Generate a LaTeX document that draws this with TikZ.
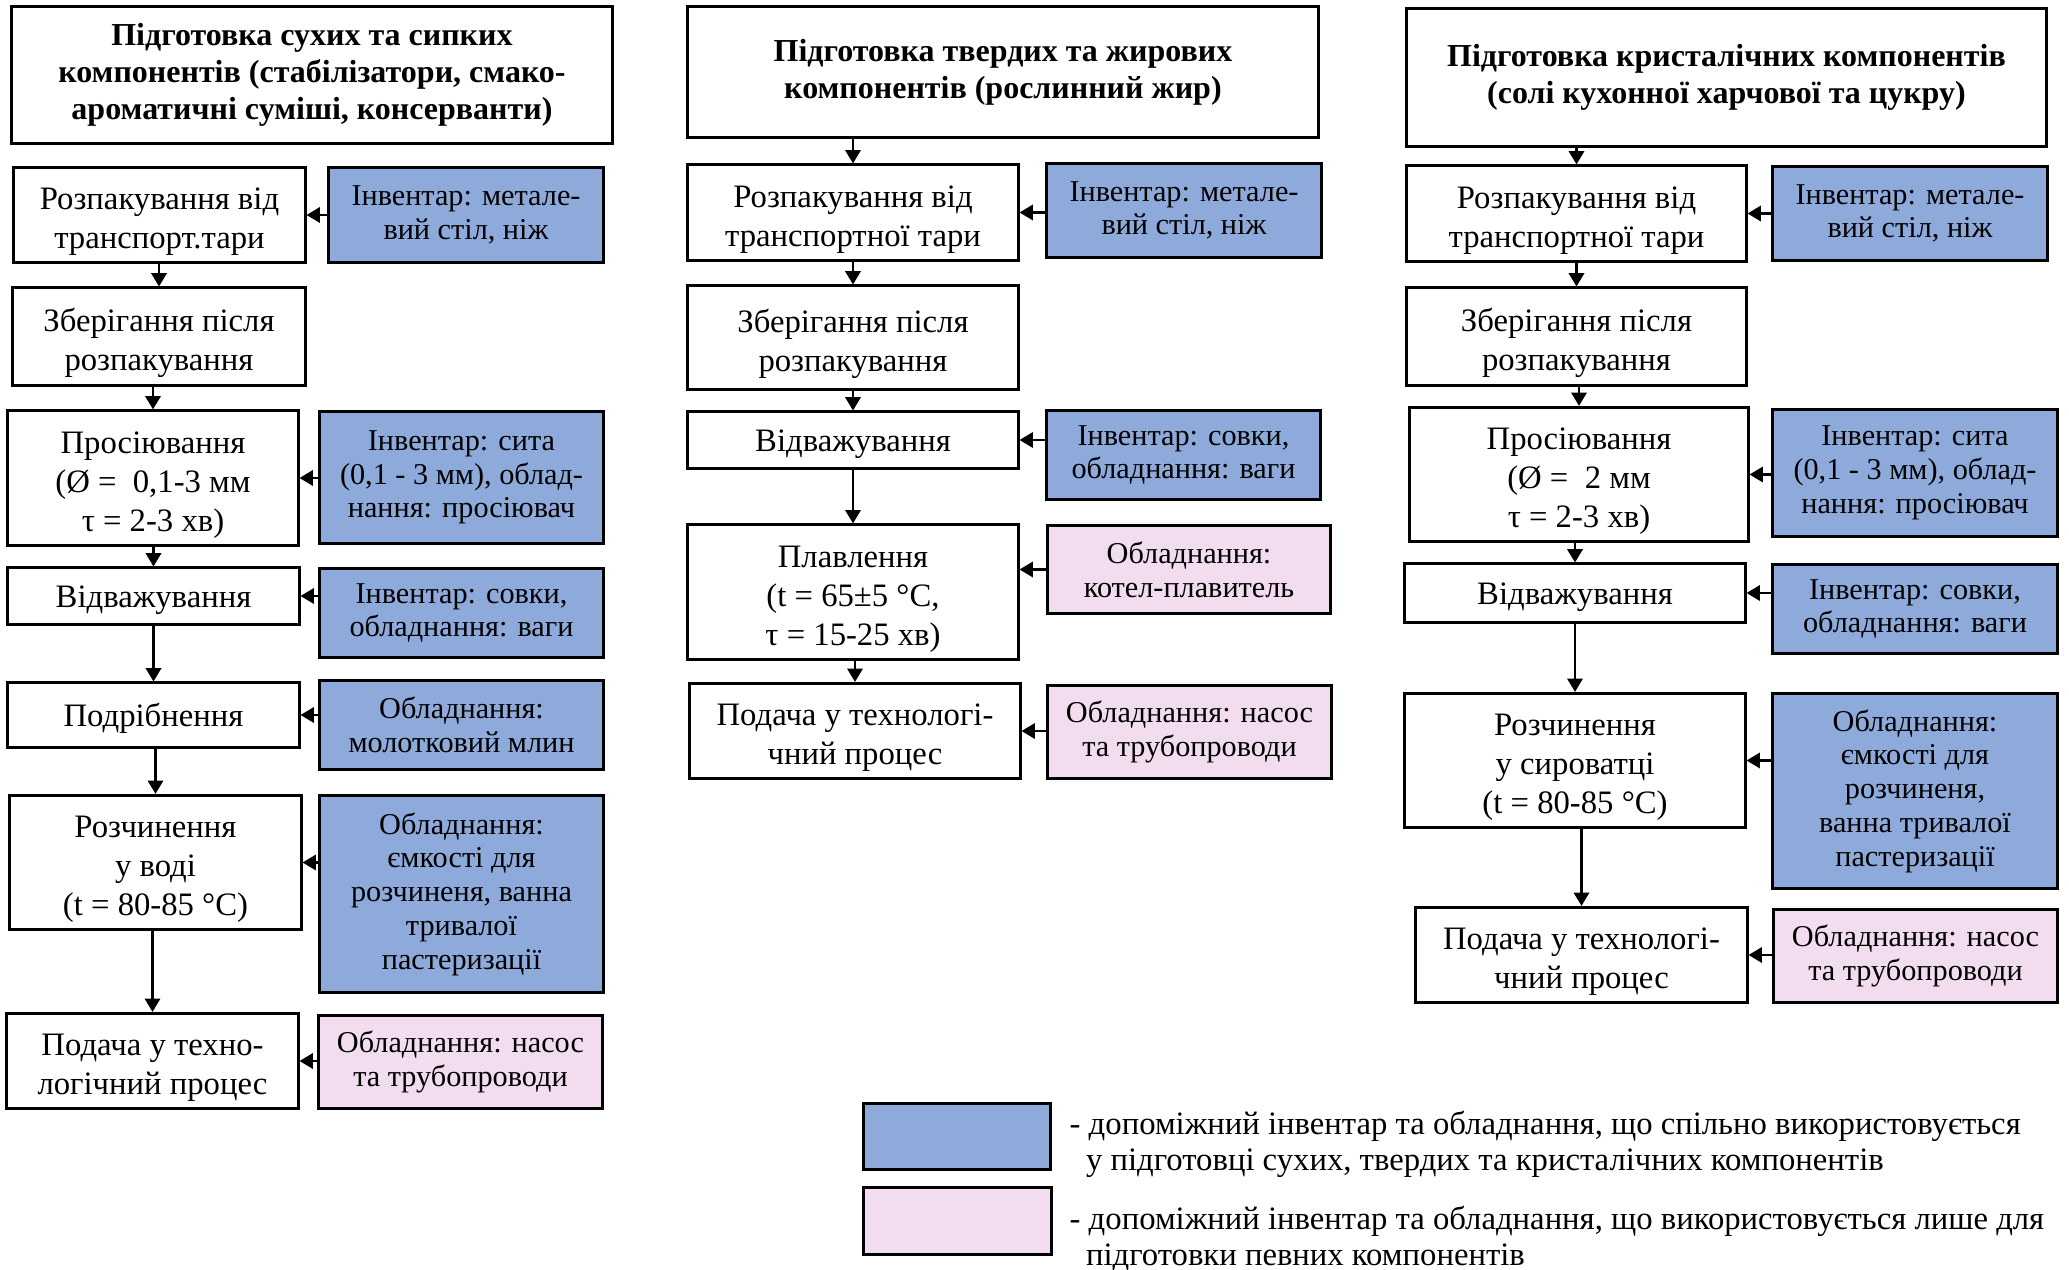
\documentclass[tikz,border=0pt]{standalone}
\usepackage{fontspec}
\setmainfont{Liberation Serif}
\usetikzlibrary{arrows.meta}
\definecolor{toolblue}{RGB}{142,170,219}
\definecolor{toolpink}{RGB}{242,220,239}
\newcommand{\toppad}{\rule{0pt}{10pt}}

\begin{document}
\begin{tikzpicture}[x=0.01cm, y=-0.01cm,
        stage/.style={draw, line width=.85pt, align=center, inner sep=2pt, font=\fontsize{9.3}{11.1}\selectfont, execute at begin node=\rule{0pt}{8.5pt}},
        head/.style={stage, font=\fontsize{9.1}{10.5}\selectfont\bfseries},
        tool/.style={stage, fill=toolblue, font=\fontsize{8.6}{9.6}\selectfont},
        own/.style={tool, fill=toolpink},
        wh/.style 2 args={minimum width=#1cm, minimum height=#2cm},
        arr/.style={-{Triangle[width=4.4pt,length=3.8pt]}, line width=.6pt}]
        \useasboundingbox (0,0) rectangle (2069,1270);
        % dry components
        \node[head, wh={6.00}{1.36}] (d0) at (312,75) {Підготовка сухих та сипких\\компонентів (стабілізатори, смако-\\ароматичні суміші, консерванти)};
        \node[stage, wh={2.91}{.94}] (d1) at (159.5,215) {\toppad Розпакування від\\транспорт.тари};
        \node[tool, wh={2.75}{.94}] (d1t) at (466,215) {Інвентар: метале-\\вий стіл, ніж};
        \node[stage, wh={2.92}{.97}] (d2) at (159,336.5) {\toppad Зберігання після\\розпакування};
        \node[stage, wh={2.90}{1.31}] (d3) at (153,478) {\toppad Просіювання\\(Ø =\ \ 0,1-3 мм\\τ = 2-3 хв)};
        \node[tool, wh={2.83}{1.31}] (d3t) at (461.5,477.5) {Інвентар: сита\\(0,1 - 3 мм), облад-\\нання: просіювач};
        \node[stage, wh={2.91}{.56}] (d4) at (153.5,596) {Відважування};
        \node[tool, wh={2.83}{.88}] (d4t) at (461.5,613) {Інвентар: совки,\\обладнання: ваги};
        \node[stage, wh={2.91}{.64}] (d5) at (153.5,715) {Подрібнення};
        \node[tool, wh={2.83}{.88}] (d5t) at (461.5,725) {Обладнання:\\молотковий млин};
        \node[stage, wh={2.91}{1.33}] (d6) at (155.5,862.5) {\toppad Розчинення\\у воді\\(t = 80-85 °C)};
        \node[tool, wh={2.83}{1.96}] (d6t) at (461.5,894) {Обладнання:\\ємкості для\\розчиненя, ванна\\тривалої\\пастеризації};
        \node[stage, wh={2.91}{.94}] (d7) at (152.5,1061) {\toppad Подача у техно-\\логічний процес};
        \node[own, wh={2.83}{.92}] (d7t) at (460.5,1062) {Обладнання: насос\\та трубопроводи};
        % fat components
        \node[head, wh={6.30}{1.30}] (f0) at (1003,72) {Підготовка твердих та жирових\\компонентів (рослинний жир)};
        \node[stage, wh={3.30}{.93}] (f1) at (853,212.5) {\toppad Розпакування від\\транспортної тари};
        \node[tool, wh={2.74}{.93}] (f1t) at (1184,210.5) {Інвентар: метале-\\вий стіл, ніж};
        \node[stage, wh={3.30}{1.03}] (f2) at (853,337.5) {\toppad Зберігання після\\розпакування};
        \node[stage, wh={3.30}{.56}] (f3) at (853,440) {Відважування};
        \node[tool, wh={2.73}{.88}] (f3t) at (1183.5,455) {Інвентар: совки,\\обладнання: ваги};
        \node[stage, wh={3.30}{1.32}] (f4) at (853,592) {\toppad Плавлення\\(t = 65±5 °C,\\τ = 15-25 хв)};
        \node[own, wh={2.82}{.87}] (f4t) at (1189,569.5) {Обладнання:\\котел-плавитель};
        \node[stage, wh={3.30}{.94}] (f5) at (855,731) {\toppad Подача у технологі-\\чний процес};
        \node[own, wh={2.83}{.92}] (f5t) at (1189.5,732) {Обладнання: насос\\та трубопроводи};
        % crystal components
        \node[head, wh={6.39}{1.37}] (c0) at (1726.5,77.5) {Підготовка кристалічних компонентів\\(солі кухонної харчової та цукру)};
        \node[stage, wh={3.39}{.93}] (c1) at (1576.5,213.5) {\toppad Розпакування від\\транспортної тари};
        \node[tool, wh={2.74}{.93}] (c1t) at (1910,213.5) {Інвентар: метале-\\вий стіл, ніж};
        \node[stage, wh={3.39}{.97}] (c2) at (1576.5,336.5) {\toppad Зберігання після\\розпакування};
        \node[stage, wh={3.38}{1.32}] (c3) at (1579,474.5) {\toppad Просіювання\\(Ø =\ \ 2 мм\\τ = 2-3 хв)};
        \node[tool, wh={2.84}{1.26}] (c3t) at (1915,473) {Інвентар: сита\\(0,1 - 3 мм), облад-\\нання: просіювач};
        \node[stage, wh={3.40}{.58}] (c4) at (1575,593) {Відважування};
        \node[tool, wh={2.84}{.88}] (c4t) at (1915,609) {Інвентар: совки,\\обладнання: ваги};
        \node[stage, wh={3.40}{1.33}] (c5) at (1575,760.5) {\toppad Розчинення\\у сироватці\\(t = 80-85 °C)};
        \node[tool, wh={2.84}{1.94}] (c5t) at (1915,791) {Обладнання:\\ємкості для\\розчиненя,\\ванна тривалої\\пастеризації};
        \node[stage, wh={3.31}{.94}] (c6) at (1581.5,955) {\toppad Подача у технологі-\\чний процес};
        \node[own, wh={2.83}{.92}] (c6t) at (1915.5,956) {Обладнання: насос\\та трубопроводи};
        % legend
        \node[tool, wh={1.87}{.65}] (keyshared) at (957,1136.5) {};
        \node[own, wh={1.88}{.66}] (keyown) at (957.5,1221) {};
        \node[anchor=west, align=left, inner sep=0pt, font=\fontsize{9.3}{10.3}\selectfont] (keysharedtxt) at (1069,1144)
            {- допоміжний інвентар та обладнання, що спільно використовується\\\hspace*{.5em}у підготовці сухих, твердих та кристалічних компонентів};
        \node[anchor=west, align=left, inner sep=0pt, font=\fontsize{9.3}{10.3}\selectfont] (keyowntxt) at (1069,1239)
            {- допоміжний інвентар та обладнання, що використовується лише для\\\hspace*{.5em}підготовки певних компонентів};
        % arrows
        \foreach \a/\b in {d1/d2, d2/d3, d3/d4, d4/d5, d5/d6, d6/d7, f1/f2, f2/f3, f3/f4, f4/f5, c1/c2, c2/c3, c3/c4, c4/c5, c5/c6}
            \draw[arr] (\b.north |- \a.south) -- (\b.north);
        \draw[arr] (f0.south -| f1.north) -- (f1.north);
        \draw[arr] (c0.south -| c1.north) -- (c1.north);
        \foreach \a/\b in {d1/d1t, d3/d3t, d4/d4t, d5/d5t, d6/d6t, d7/d7t, f1/f1t, f3/f3t, f5/f5t, c1/c1t, c3/c3t, c4/c4t, c5/c5t, c6/c6t}
            \draw[arr] (\b.west |- \a.east) -- (\a.east);
        \draw[arr] (f4t.west) -- (f4t.west -| f4.east);
\end{tikzpicture}
\end{document}
